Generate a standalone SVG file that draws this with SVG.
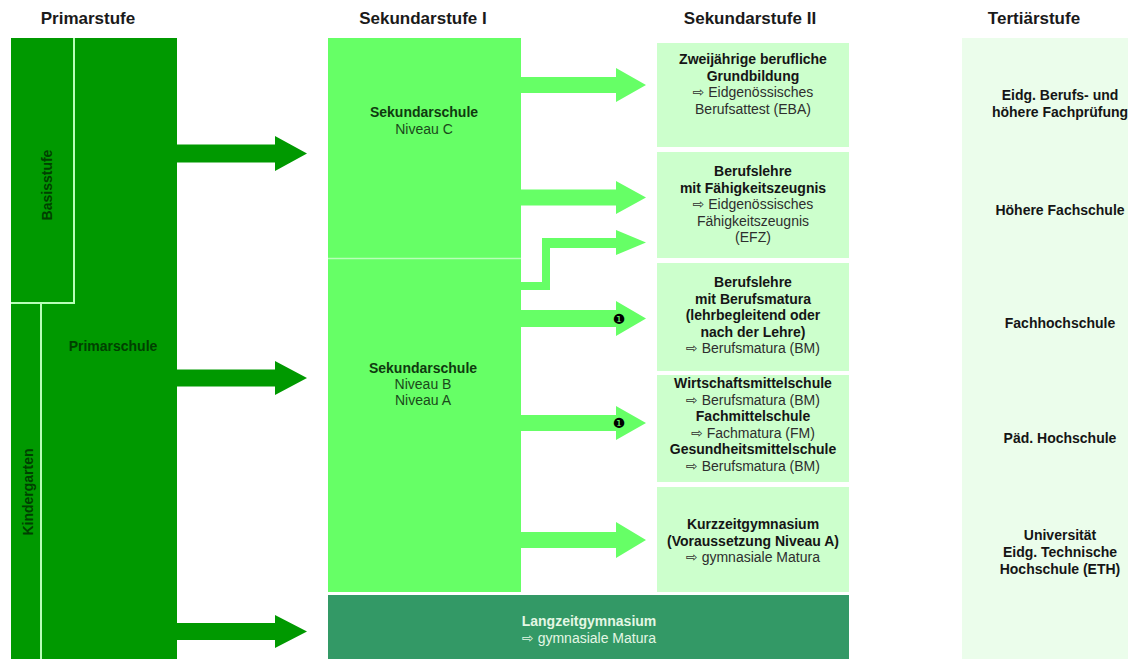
<svg xmlns="http://www.w3.org/2000/svg" width="1140" height="659" viewBox="0 0 1140 659">
<style>
text{font-family:"Liberation Sans","DejaVu Sans",Arial,sans-serif;font-size:14px;text-anchor:middle}
.title{font-size:17px;font-weight:bold;fill:#1a1a1a}
.b{font-weight:bold;fill:#151515}
.r{fill:#2e2e2e}
.pg{font-weight:bold;fill:#004000}
.sb{font-weight:bold;fill:#0f3a0f}
.sr{fill:#1a4a1a}
.lb{font-weight:bold;fill:#e4f7e4}
.lr{fill:#e4f7e4}
.sek2{fill:#ccffcc}
.arrP{fill:#009900}
.arrS{fill:#66ff66}
.sep{stroke:#b8ffb8;stroke-width:2;fill:none}
.num{font-family:"DejaVu Sans",sans-serif;font-size:14px;fill:#000}
</style>
<rect width="1140" height="659" fill="#ffffff"/>
<g id="titles">
<text class="title" x="88" y="24">Primarstufe</text>
<text class="title" x="423" y="24">Sekundarstufe I</text>
<text class="title" x="750" y="24">Sekundarstufe II</text>
<text class="title" x="1034" y="24">Tertiärstufe</text>
</g>
<g id="primarschule">
<rect x="11" y="38" width="166" height="621" fill="#009900"/>
<text class="pg" x="113" y="351">Primarschule</text>
</g>
<g id="basisstufe">
<path class="sep" d="M74,38 V303 H11"/>
<text class="pg" transform="translate(52,185) rotate(-90)">Basisstufe</text>
</g>
<g id="kindergarten">
<path class="sep" d="M41,304 V659"/>
<text class="pg" transform="translate(33,492) rotate(-90)">Kindergarten</text>
</g>
<g id="sek-c">
<rect x="328" y="38" width="193" height="220" fill="#66ff66"/>
<text class="sb" x="424" y="117">Sekundarschule</text>
<text class="sr" x="424" y="134">Niveau C</text>
</g>
<g id="sek-ba">
<rect x="328" y="258" width="193" height="334" fill="#66ff66"/>
<path d="M328,258.5 H521" stroke="#b8ffb8" stroke-width="1.5"/>
<text class="sb" x="423" y="373">Sekundarschule</text>
<text class="sr" x="423" y="389">Niveau B</text>
<text class="sr" x="423" y="405">Niveau A</text>
</g>
<g id="eba">
<rect class="sek2" x="657" y="43" width="192" height="104"/>
<text class="b" x="753" y="64">Zweijährige berufliche</text>
<text class="b" x="753" y="80.5">Grundbildung</text>
<text class="r" x="753" y="97">⇨ Eidgenössisches</text>
<text class="r" x="753" y="113.5">Berufsattest (EBA)</text>
</g>
<g id="efz">
<rect class="sek2" x="657" y="152" width="192" height="106"/>
<text class="b" x="753" y="176">Berufslehre</text>
<text class="b" x="753" y="192.5">mit Fähigkeitszeugnis</text>
<text class="r" x="753" y="209">⇨ Eidgenössisches</text>
<text class="r" x="753" y="225.5">Fähigkeitszeugnis</text>
<text class="r" x="753" y="242">(EFZ)</text>
</g>
<g id="bm">
<rect class="sek2" x="657" y="263" width="192" height="108"/>
<text class="b" x="753" y="287">Berufslehre</text>
<text class="b" x="753" y="303.5">mit Berufsmatura</text>
<text class="b" x="753" y="320">(lehrbegleitend oder</text>
<text class="b" x="753" y="336.5">nach der Lehre)</text>
<text class="r" x="753" y="353">⇨ Berufsmatura (BM)</text>
</g>
<g id="mittelschulen">
<rect class="sek2" x="657" y="375" width="192" height="107"/>
<text class="b" x="753" y="388">Wirtschaftsmittelschule</text>
<text class="r" x="753" y="404.5">⇨ Berufsmatura (BM)</text>
<text class="b" x="753" y="421">Fachmittelschule</text>
<text class="r" x="753" y="437.5">⇨ Fachmatura (FM)</text>
<text class="b" x="753" y="454">Gesundheitsmittelschule</text>
<text class="r" x="753" y="470.5">⇨ Berufsmatura (BM)</text>
</g>
<g id="kurzzeitgymnasium">
<rect class="sek2" x="657" y="487" width="192" height="105"/>
<text class="b" x="753" y="529">Kurzzeitgymnasium</text>
<text class="b" x="753" y="545.5">(Voraussetzung Niveau A)</text>
<text class="r" x="753" y="562">⇨ gymnasiale Matura</text>
</g>
<g id="langzeitgymnasium">
<rect x="328" y="595" width="521" height="64" fill="#339966"/>
<text class="lb" x="589" y="626">Langzeitgymnasium</text>
<text class="lr" x="589" y="643">⇨ gymnasiale Matura</text>
</g>
<g id="tertiaer">
<rect x="962" y="38" width="166" height="621" fill="#ebfdeb"/>
<text class="b" x="1060" y="100">Eidg. Berufs- und</text>
<text class="b" x="1060" y="117">höhere Fachprüfung</text>
<text class="b" x="1060" y="215">Höhere Fachschule</text>
<text class="b" x="1060" y="328">Fachhochschule</text>
<text class="b" x="1060" y="443">Päd. Hochschule</text>
<text class="b" x="1060" y="540">Universität</text>
<text class="b" x="1060" y="557">Eidg. Technische</text>
<text class="b" x="1060" y="574">Hochschule (ETH)</text>
</g>
<g id="connectors">
<polygon class="arrP" points="177,144.5 275,144.5 275,136 307,153.5 275,171 275,162.5 177,162.5"/>
<polygon class="arrP" points="177,369.5 275,369.5 275,361 307,378 275,395 275,386.5 177,386.5"/>
<polygon class="arrP" points="177,623 275,623 275,615 307,631.5 275,648 275,640 177,640"/>
<polygon class="arrS" points="521,77 616,77 616,68 646,85 616,102 616,93 521,93"/>
<polygon class="arrS" points="521,189.5 616,189.5 616,181 646,197.5 616,214 616,205.5 521,205.5"/>
<polygon class="arrS" points="521,282 542,282 542,238 616,238 616,230 646,242.5 616,255 616,248 550,248 550,290 521,290"/>
<polygon class="arrS" points="521,310 616,310 616,301 646,318.5 616,336 616,327 521,327"/>
<polygon class="arrS" points="521,415 616,415 616,406 646,423 616,440 616,431 521,431"/>
<polygon class="arrS" points="521,532 616,532 616,522 646,540 616,558 616,548 521,548"/>
<text class="num" x="619" y="323.5">❶</text>
<text class="num" x="619" y="428">❶</text>
</g>
</svg>
